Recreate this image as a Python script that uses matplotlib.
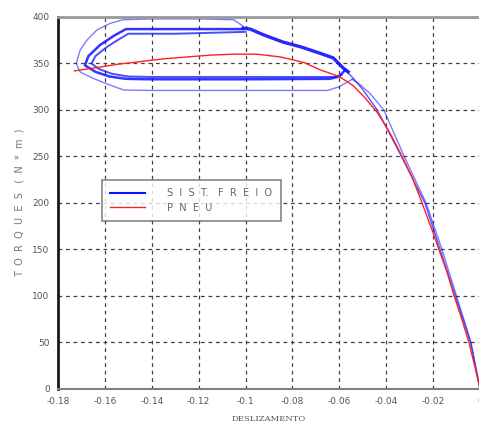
import numpy as np
import matplotlib
matplotlib.use('Agg')
import matplotlib.pyplot as plt

# curva do pneu (vermelho)
pneu_x = [-0.173, -0.165, -0.155, -0.145, -0.135, -0.125, -0.115, -0.105, -0.095, -0.085,
          -0.075, -0.068, -0.060, -0.054, -0.049, -0.044, -0.039, -0.034, -0.029, -0.025,
          -0.020, -0.0175, -0.014, -0.011, -0.008, -0.0047, -0.002, 0.0]
pneu_y = [342, 345, 349, 352, 355, 357, 359, 360, 360, 357,
          351, 343, 336, 326, 313, 298, 278, 254, 228, 202,
          168, 150, 125, 100, 77, 50, 22, 0]

# sistema de freio (azul): ramos da direita
dir_a_x = [0.0, -0.0038, -0.010, -0.0162, -0.023, -0.0323, -0.041, -0.047, -0.0515, -0.0545]
dir_a_y = [0, 50, 100, 150, 200, 250, 300, 318, 328, 333]
dir_b_x = [0.0, -0.004, -0.0105, -0.017, -0.0235, -0.0335, -0.0438, -0.050, -0.054, -0.0575]
dir_b_y = [0, 50, 100, 150, 200, 250, 300, 322, 334, 343]

# descida comum (varias passagens sobrepostas)
desc_x = [-0.101, -0.098, -0.0925, -0.084, -0.0766, -0.0694, -0.0626, -0.0583, -0.0562]
desc_y = [388, 387, 381, 373, 368, 362, 356, 345, 341]

# ciclos (externo, medio, interno)
ext_x = [-0.0545, -0.060, -0.065, -0.100, -0.140, -0.152, -0.158, -0.165, -0.1706, -0.1722,
         -0.1706, -0.1677, -0.1634, -0.1579, -0.1523, -0.140, -0.120, -0.105, -0.101]
ext_y = [333, 325, 321, 321, 321, 321.5, 327, 334, 341, 350,
         364, 375, 386, 393, 397, 398, 398, 397, 390]
med_x = [-0.0575, -0.060, -0.064, -0.100, -0.140, -0.151, -0.158, -0.164, -0.1685,
         -0.167, -0.162, -0.156, -0.151, -0.130, -0.101]
med_y = [343, 336, 333.5, 333, 333, 333.5, 336, 341, 348,
         358, 370, 380, 387, 387, 387]
int_x = [-0.059, -0.062, -0.100, -0.140, -0.150, -0.157, -0.1625, -0.1657,
         -0.164, -0.159, -0.154, -0.150, -0.130, -0.100]
int_y = [338, 335.5, 335.5, 335.5, 336, 339, 344, 350,
         358, 368, 376, 382, 382, 384]

xticks = [-0.18, -0.16, -0.14, -0.12, -0.1, -0.08, -0.06, -0.04, -0.02, 0]
xlabels = ['-0.18', '-0.16', '-0.14', '-0.12', '-0.1', '-0.08', '-0.06', '-0.04', '-0.02', '0']
yticks = [0, 50, 100, 150, 200, 250, 300, 350, 400]

fig = plt.figure(figsize=(4.79, 4.25), dpi=100)
ax = fig.add_axes([0.121, 0.085, 0.881, 0.875])

azul = '#1010ff'
ax.plot(dir_a_x, dir_a_y, color=azul, lw=1.0, alpha=0.55)
ax.plot(dir_b_x, dir_b_y, color=azul, lw=1.0, alpha=0.7)
ax.plot(ext_x, ext_y, color=azul, lw=1.0, alpha=0.55)
ax.plot(med_x, med_y, color=azul, lw=1.8, alpha=0.85)
ax.plot(int_x, int_y, color=azul, lw=1.4, alpha=0.75)
l1, = ax.plot(desc_x, desc_y, color=azul, lw=2.4, alpha=0.9)
l2, = ax.plot(pneu_x, pneu_y, color='#ff2020', lw=1.0)

ax.set_xlim(-0.18, 0)
ax.set_ylim(0, 400)
ax.set_xticks(xticks)
ax.set_xticklabels(xlabels)
ax.set_yticks(yticks)
ax.tick_params(length=0, labelsize=6.5, labelcolor='#555555', pad=6)
ax.grid(True, color='0.25', linestyle=(0, (3, 3)), lw=0.9)

ax.spines['top'].set_color('0.6')
ax.spines['top'].set_linewidth(2)
ax.spines['left'].set_color('0.1')
ax.spines['left'].set_linewidth(2)
ax.spines['bottom'].set_color('0.5')
ax.spines['bottom'].set_linewidth(1.5)
ax.spines['right'].set_visible(False)

ax.set_xlabel('DESLIZAMENTO', family='DejaVu Serif', fontsize=6, color='#555555', labelpad=6)
ax.set_ylabel('T  O  R  Q  U  E  S   (  N  *  m  )', fontsize=7, color='#777777', labelpad=6)

leg = ax.legend([l1, l2], ['S  I  S  T.   F  R  E  I  O', 'P  N  E  U'],
                loc='upper left', bbox_to_anchor=(0.104, 0.562), borderaxespad=0,
                fontsize=7, frameon=True, fancybox=False, handlelength=3.6,
                handletextpad=2.3, borderpad=0.85, labelspacing=0.45)
leg.get_frame().set_edgecolor('0.4')
leg.get_frame().set_linewidth(1.2)
for t in leg.get_texts():
    t.set_color('#666666')
leg.legend_handles[0].set_linewidth(1.5)
leg.legend_handles[0].set_alpha(1)

fig.savefig('out.png', dpi=100)
